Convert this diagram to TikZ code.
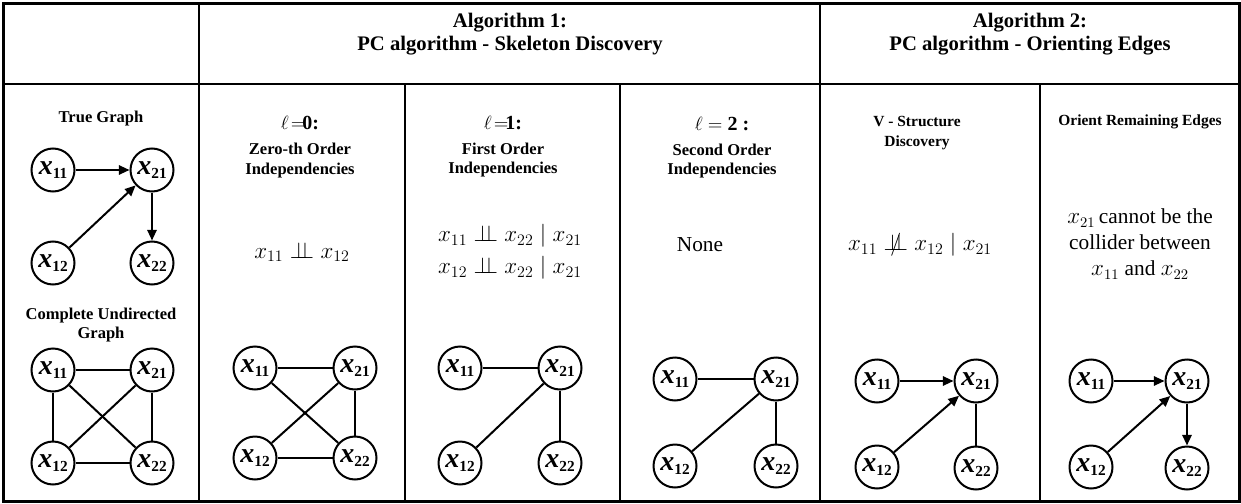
\documentclass[tikz,border=0pt]{standalone}
\usepackage[no-math]{fontspec}
\setmainfont{Liberation Serif}
\usetikzlibrary{arrows.meta}
\newcommand{\nx}[1]{{\fontsize{21pt}{22pt}\selectfont\bfseries\itshape x}\raisebox{-2.6pt}{\fontsize{11.5pt}{12pt}\selectfont\bfseries #1}}
\newcommand{\indep}{\mathrel{\perp\mkern-9mu\perp}}
\newcommand{\nindep}{\mathrel{\ooalign{$\perp\mkern-9mu\perp$\cr\hidewidth$/$\hidewidth\cr}}}
\begin{document}
\begin{tikzpicture}[x=0.75pt,y=-0.75pt,
  vnode/.style={circle,draw,line width=1.5pt,minimum size=32.25pt,inner sep=0pt,fill=white},
  edge/.style={line width=1.5pt},
  arr/.style={edge,-{Triangle[length=8pt,width=7pt]}},
  head/.style={font=\fontsize{15.5pt}{17.5pt}\selectfont\bfseries,align=center},
  btitle/.style={font=\fontsize{12.4pt}{14.5pt}\selectfont\bfseries,align=center},
  stitle/.style={font=\fontsize{11.6pt}{14.5pt}\selectfont\bfseries,align=center},
  ltitle/.style={font=\fontsize{15pt}{16pt}\selectfont},
  formula/.style={font=\fontsize{17pt}{24pt}\selectfont,align=center},
  plain/.style={font=\fontsize{16pt}{19.5pt}\selectfont,align=center},
  grid/.style={line width=1.5pt},
  frame/.style={line width=2.25pt}]
\useasboundingbox (0,0) rectangle (1241,503);
% table
\draw[frame] (3,4) rectangle (1239,501);
\draw[grid] (3,84) -- (1239,84);
\draw[grid] (199,4) -- (199,501);
\draw[grid] (820,4) -- (820,501);
\draw[grid] (405,84) -- (405,501);
\draw[grid] (620,84) -- (620,501);
\draw[grid] (1040,84) -- (1040,501);
% headers
\node[head] (h1) at (510,34) {Algorithm 1:\\PC algorithm - Skeleton Discovery};
\node[head] (h2) at (1030,34) {Algorithm 2:\\PC algorithm - Orienting Edges};
% column titles
\node[btitle] (tt) at (101,119) {True Graph};
\node[btitle] (ct) at (101,325) {Complete Undirected\\Graph};
\node[ltitle] (l0) at (300,123) {$\ell\!=\!$\textbf{0:}};
\node[btitle] (l0t) at (300,160.5) {Zero-th Order\\Independencies};
\node[ltitle] (l1) at (503,123) {$\ell\!=\!$\textbf{1:}};
\node[btitle] (l1t) at (503,160) {First Order\\Independencies};
\node[ltitle] (l2) at (722,124) {$\ell=$ \textbf{2 :}};
\node[btitle] (l2t) at (722,161) {Second Order\\Independencies};
\node[stitle] (vt) at (917,133) {V - Structure\\Discovery};
\node[stitle] (ot) at (1140,122) {Orient Remaining Edges};
% statements
\node[formula] (f0) at (302,252) {$x_{11}\indep x_{12}$};
\node[formula] (f1) at (510,252) {$x_{11}\indep x_{22}\mid x_{21}$\\$x_{12}\indep x_{22}\mid x_{21}$};
\node[plain] (f2) at (700,245) {None};
\node[formula] (f3) at (920,245) {$x_{11}\nindep x_{12}\mid x_{21}$};
\node[plain] (f4) at (1140,244) {$x_{21}$\,cannot be the\\collider between\\$x_{11}$ and $x_{22}$};
% true graph
\node[vnode] (t11) at (53,170) {\nx{11}};
\node[vnode] (t21) at (152,170) {\nx{21}};
\node[vnode] (t12) at (53,263) {\nx{12}};
\node[vnode] (t22) at (152,263) {\nx{22}};
\draw[arr] (t11) -- (t21);
\draw[arr] (t12) -- (t21);
\draw[arr] (t21) -- (t22);
% complete undirected graph
\node[vnode] (c11) at (53,370) {\nx{11}};
\node[vnode] (c21) at (152,370) {\nx{21}};
\node[vnode] (c12) at (53,463) {\nx{12}};
\node[vnode] (c22) at (152,463) {\nx{22}};
\draw[edge] (c11) -- (c21);
\draw[edge] (c11) -- (c12);
\draw[edge] (c11) -- (c22);
\draw[edge] (c21) -- (c12);
\draw[edge] (c21) -- (c22);
\draw[edge] (c12) -- (c22);
% l = 0
\node[vnode] (a11) at (255,368) {\nx{11}};
\node[vnode] (a21) at (355,368) {\nx{21}};
\node[vnode] (a12) at (255,458) {\nx{12}};
\node[vnode] (a22) at (355,458) {\nx{22}};
\draw[edge] (a11) -- (a21);
\draw[edge] (a11) -- (a22);
\draw[edge] (a21) -- (a12);
\draw[edge] (a21) -- (a22);
\draw[edge] (a12) -- (a22);
% l = 1
\node[vnode] (b11) at (460,368) {\nx{11}};
\node[vnode] (b21) at (560,368) {\nx{21}};
\node[vnode] (b12) at (460,463) {\nx{12}};
\node[vnode] (b22) at (560,463) {\nx{22}};
\draw[edge] (b11) -- (b21);
\draw[edge] (b21) -- (b12);
\draw[edge] (b21) -- (b22);
% l = 2
\node[vnode] (d11) at (675,379) {\nx{11}};
\node[vnode] (d21) at (776,379) {\nx{21}};
\node[vnode] (d12) at (675,466) {\nx{12}};
\node[vnode] (d22) at (776,466) {\nx{22}};
\draw[edge] (d11) -- (d21);
\draw[edge] (d21) -- (d12);
\draw[edge] (d21) -- (d22);
% V-structure
\node[vnode] (v11) at (877,381) {\nx{11}};
\node[vnode] (v21) at (976,381) {\nx{21}};
\node[vnode] (v12) at (877,467) {\nx{12}};
\node[vnode] (v22) at (976,468) {\nx{22}};
\draw[arr] (v11) -- (v21);
\draw[arr] (v12) -- (v21);
\draw[edge] (v21) -- (v22);
% orient remaining
\node[vnode] (o11) at (1091,381) {\nx{11}};
\node[vnode] (o21) at (1187,381) {\nx{21}};
\node[vnode] (o12) at (1091,467) {\nx{12}};
\node[vnode] (o22) at (1187,468) {\nx{22}};
\draw[arr] (o11) -- (o21);
\draw[arr] (o12) -- (o21);
\draw[arr] (o21) -- (o22);
\end{tikzpicture}
\end{document}
